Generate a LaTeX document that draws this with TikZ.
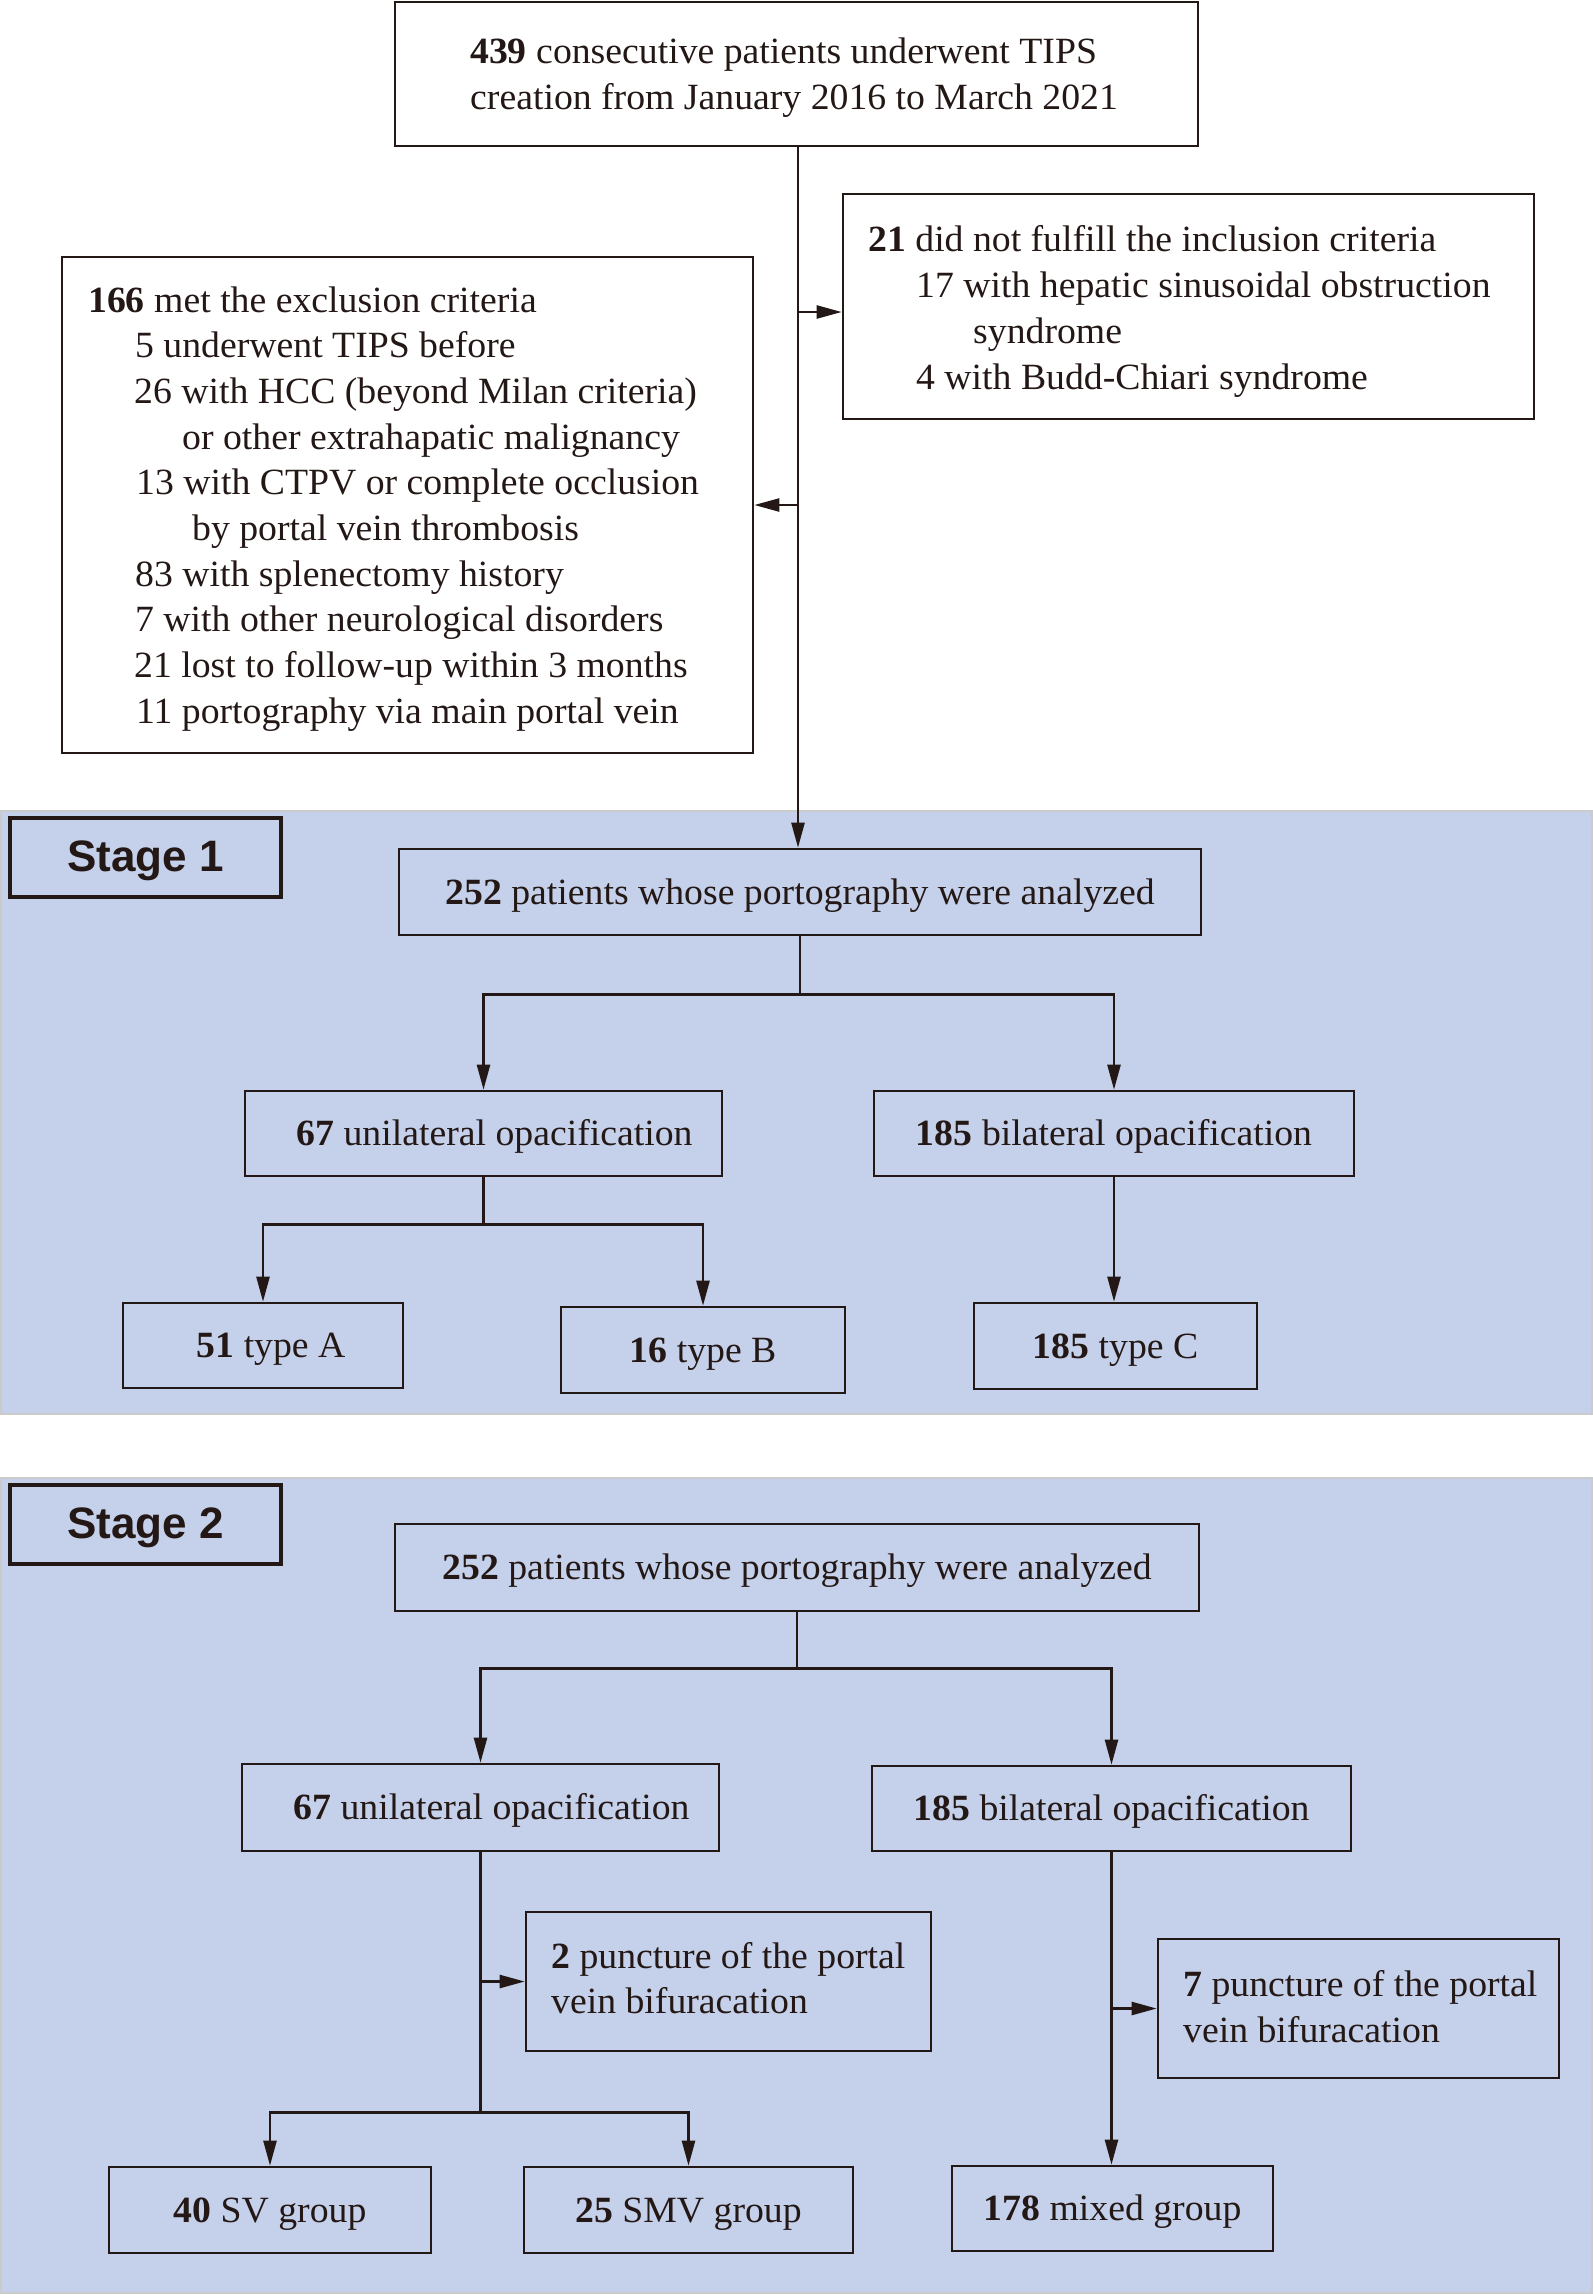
\documentclass[tikz,border=0pt]{standalone}
\usepackage{fontspec}
\setmainfont{Liberation Serif}[FakeStretch=1.02]
\newfontfamily\stagefont{Liberation Sans}
\usetikzlibrary{arrows.meta}
\definecolor{ink}{HTML}{231815}
\definecolor{panel}{HTML}{C5D0EA}
\definecolor{panelline}{HTML}{CBCBCB}
\begin{document}
\begin{tikzpicture}[x=1pt,y=-1pt,
  box/.style={draw=ink, line width=2.6pt, rectangle, inner sep=0pt, text=ink,
    font=\fontsize{37}{44}\selectfont, text height=27pt, text depth=3pt},
  stagebox/.style={draw=ink, line width=4.5pt, rectangle, inner sep=0pt, text=ink,
    font=\stagefont\bfseries\fontsize{44}{50}\selectfont, text height=30pt, text depth=3pt},
  conn/.style={draw=ink, line width=2.4pt},
  arr/.style={conn, -{Triangle[length=25pt,width=13pt]}},
  txt/.style={anchor=base west, inner sep=0pt, text=ink, font=\fontsize{37}{44}\selectfont},
  panelbg/.style={fill=panel, draw=panelline, line width=2pt}]
\useasboundingbox (0,0) rectangle (1593,2295);

% panels
\draw[panelbg] (1,811) rectangle (1592,1414);
\draw[panelbg] (1,1478) rectangle (1592,2293);

% top part
\node[box, minimum width=803pt, minimum height=144pt] (top) at (796.5,74) {};
\node[txt] (topl1) at (470,63) {\textbf{439} consecutive patients underwent TIPS};
\node[txt] (topl2) at (470,109) {creation from January 2016 to March 2021};

\node[box, minimum width=691pt, minimum height=225pt] (incl) at (1188.5,306.5) {};
\node[txt] (in1) at (868,251) {\textbf{21} did not fulfill the inclusion criteria};
\node[txt] (in2) at (916,297) {17 with hepatic sinusoidal obstruction};
\node[txt] (in3) at (973,343) {syndrome};
\node[txt] (in4) at (916,389) {4 with Budd-Chiari syndrome};

\node[box, minimum width=691pt, minimum height=496pt] (excl) at (407.5,505) {};
\node[txt] (ex1) at (88,312) {\textbf{166} met the exclusion criteria};
\node[txt] (ex2) at (135,357.7) {5 underwent TIPS before};
\node[txt] (ex3) at (134,403.4) {26 with HCC (beyond Milan criteria)};
\node[txt] (ex4) at (182,449.1) {or other extrahapatic malignancy};
\node[txt] (ex5) at (136,494.8) {13 with CTPV or complete occlusion};
\node[txt] (ex6) at (192,540.5) {by portal vein thrombosis};
\node[txt] (ex7) at (135,586.2) {83 with splenectomy history};
\node[txt] (ex8) at (135,631.9) {7 with other neurological disorders};
\node[txt] (ex9) at (134,677.6) {21 lost to follow-up within 3 months};
\node[txt] (ex10) at (136,723.3) {11 portography via main portal vein};

% stage 1
\node[stagebox, minimum width=271pt, minimum height=79pt] (st1) at (145.5,857.5) {Stage 1};
\node[box, minimum width=802pt, minimum height=86pt] (s1top) at (800,892) {\textbf{252} patients whose portography were analyzed};
\node[box, minimum width=477pt, minimum height=85pt] (uni1) at (483.5,1133.5) {\hspace*{22pt}\textbf{67} unilateral opacification};
\node[box, minimum width=480pt, minimum height=85pt] (bil1) at (1114,1133.5) {\textbf{185} bilateral opacification};
\node[box, minimum width=280pt, minimum height=85pt] (typeA) at (263,1345.5) {\hspace*{16pt}\textbf{51} type A};
\node[box, minimum width=284pt, minimum height=86pt] (typeB) at (703,1350) {\textbf{16} type B};
\node[box, minimum width=283pt, minimum height=86pt] (typeC) at (1115.5,1346) {\textbf{185} type C};

% stage 2
\node[stagebox, minimum width=271pt, minimum height=79pt] (st2) at (145.5,1524.5) {Stage 2};
\node[box, minimum width=804pt, minimum height=87pt] (s2top) at (797,1567.5) {\textbf{252} patients whose portography were analyzed};
\node[box, minimum width=477pt, minimum height=87pt] (uni2) at (480.5,1807.5) {\hspace*{22pt}\textbf{67} unilateral opacification};
\node[box, minimum width=479pt, minimum height=85pt] (bil2) at (1111.5,1808.5) {\textbf{185} bilateral opacification};
\node[box, minimum width=405pt, minimum height=139pt] (punct2) at (728.5,1981.5) {};
\node[txt] (p2l1) at (551,1968) {\textbf{2} puncture of the portal};
\node[txt] (p2l2) at (551,2013) {vein bifuracation};
\node[box, minimum width=401pt, minimum height=139pt] (punct7) at (1358.5,2008.5) {};
\node[txt] (p7l1) at (1183,1996) {\textbf{7} puncture of the portal};
\node[txt] (p7l2) at (1183,2042) {vein bifuracation};
\node[box, minimum width=322pt, minimum height=86pt] (sv) at (270,2210) {\textbf{40} SV group};
\node[box, minimum width=329pt, minimum height=86pt] (smv) at (688.5,2210) {\textbf{25} SMV group};
\node[box, minimum width=321pt, minimum height=85pt] (mixed) at (1112.5,2208.5) {\textbf{178} mixed group};

% connectors top
\coordinate (jin) at (798,312);
\coordinate (jex) at (798,505);
\draw[arr] (top.south -| jin) -- (jin |- s1top.north);
\draw[arr] (jin) -- (jin -| incl.west);
\draw[arr] (jex) -- (jex -| excl.east);

% connectors stage 1
\draw[arr] (s1top.south) -- ++(0,58) -| (uni1.north);
\draw[arr] (s1top.south) -- ++(0,58) -| (bil1.north);
\draw[arr] (uni1.south) -- ++(0,47) -| (typeA.north);
\draw[arr] (uni1.south) -- ++(0,47) -| (typeB.north);
\draw[arr] (bil1.south) -- (bil1.south |- typeC.north);

% connectors stage 2
\draw[arr] (s2top.south) -- ++(0,56) -| (uni2.north);
\draw[arr] (s2top.south) -- ++(0,56) -| (bil2.north);
\draw[arr] (uni2.south) -- ++(0,260) -| (sv.north);
\draw[arr] (uni2.south) -- ++(0,260) -| (smv.north);
\draw[arr] (uni2.south |- punct2.west) -- (punct2.west);
\draw[arr] (bil2.south) -- (bil2.south |- mixed.north);
\draw[arr] (bil2.south |- punct7.west) -- (punct7.west);
\end{tikzpicture}
\end{document}
